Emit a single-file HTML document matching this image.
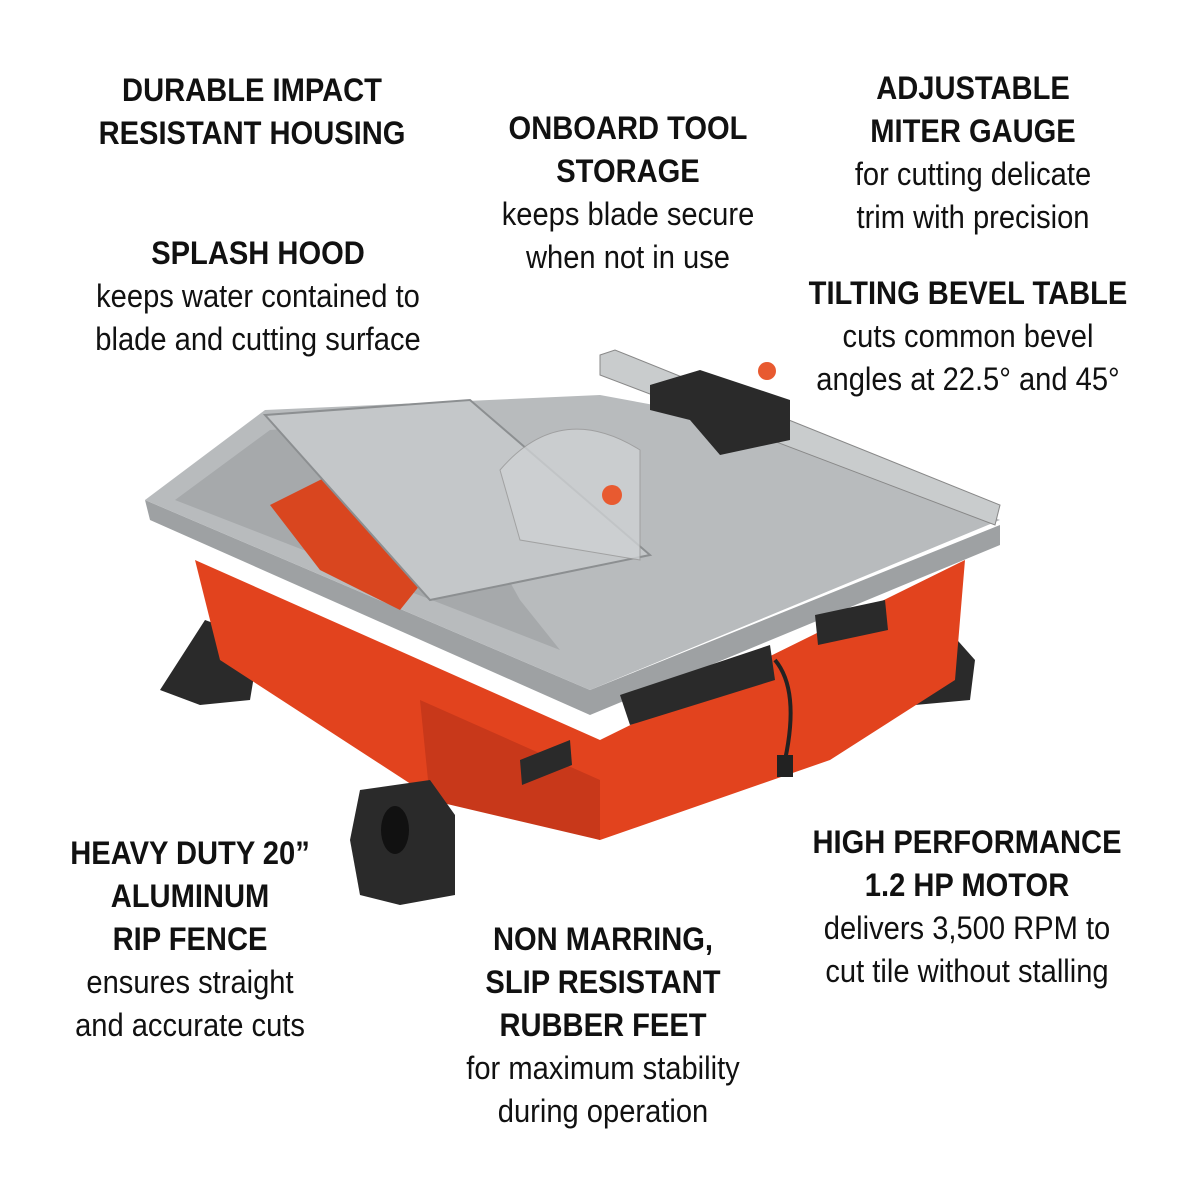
<!DOCTYPE html>
<html><head><meta charset="utf-8"><style>
body{margin:0;width:1200px;height:1200px;background:#fff;position:relative;overflow:hidden;font-family:"Liberation Sans",sans-serif;color:#111}
.b{position:absolute;text-align:center;font-size:32px;line-height:43px;white-space:nowrap;transform:translateX(-50%) scaleX(0.91)}
.b b{font-weight:bold;display:block}
.b span{display:block}
svg{position:absolute;left:0;top:0}
</style></head><body>
<svg width="1200" height="1200" viewBox="0 0 1200 1200">
<polygon points="160,690 205,620 260,640 250,700 200,705" fill="#2a2a2a"/>
<polygon points="890,640 935,615 975,660 970,700 915,705" fill="#2a2a2a"/>
<polygon points="195,560 600,740 965,560 955,680 830,760 600,840 420,790 220,660" fill="#e2431e"/>
<polygon points="420,700 600,780 600,840 430,800" fill="#c8381a"/>
<polygon points="360,790 430,780 455,815 455,895 400,905 360,895 350,840" fill="#2a2a2a"/>
<ellipse cx="395" cy="830" rx="14" ry="24" fill="#111"/>
<polygon points="145,500 590,690 1000,525 1000,545 590,715 150,520" fill="#9ea1a3"/>
<polygon points="145,500 265,410 600,395 790,430 1000,520 590,690" fill="#b8bbbd"/>
<polygon points="175,500 270,430 420,420 520,600 560,650" fill="#a6a9ab"/>
<polygon points="270,505 340,470 440,560 400,610 320,570" fill="#d9461f"/>
<polygon points="265,415 470,400 650,555 430,600" fill="#c4c7c9" stroke="#8c8f91" stroke-width="2"/>
<path d="M500,470 Q560,400 640,450 L640,560 L520,540 Z" fill="#cfd2d4" opacity="0.8" stroke="#999"/>
<circle cx="612" cy="495" r="10" fill="#e85a30"/>
<polygon points="600,355 615,350 1000,505 995,525 600,375" fill="#c9cccd" stroke="#888"/>
<polygon points="650,385 700,370 790,400 790,440 720,455 690,420 650,410" fill="#2a2a2a"/>
<circle cx="767" cy="371" r="9" fill="#e85a30"/>
<polygon points="620,695 770,645 775,680 630,725" fill="#2a2a2a"/>
<polygon points="520,760 570,740 572,765 522,785" fill="#2a2a2a"/>
<polygon points="815,615 885,600 888,630 818,645" fill="#2a2a2a"/>
<path d="M775,660 Q800,690 785,760" stroke="#222" stroke-width="4" fill="none"/>
<rect x="777" y="755" width="16" height="22" fill="#222"/>
</svg>
<div class="b" style="left:252px;top:69px"><b>DURABLE IMPACT</b><b>RESISTANT HOUSING</b></div>
<div class="b" style="left:258px;top:232px"><b>SPLASH HOOD</b><span>keeps water contained to</span><span>blade and cutting surface</span></div>
<div class="b" style="left:628px;top:107px"><b>ONBOARD TOOL</b><b>STORAGE</b><span>keeps blade secure</span><span>when not in use</span></div>
<div class="b" style="left:973px;top:67px"><b>ADJUSTABLE</b><b>MITER GAUGE</b><span>for cutting delicate</span><span>trim with precision</span></div>
<div class="b" style="left:968px;top:272px"><b>TILTING BEVEL TABLE</b><span>cuts common bevel</span><span>angles at 22.5° and 45°</span></div>
<div class="b" style="left:190px;top:832px"><b>HEAVY DUTY 20”</b><b>ALUMINUM</b><b>RIP FENCE</b><span>ensures straight</span><span>and accurate cuts</span></div>
<div class="b" style="left:603px;top:918px"><b>NON MARRING,</b><b>SLIP RESISTANT</b><b>RUBBER FEET</b><span>for maximum stability</span><span>during operation</span></div>
<div class="b" style="left:967px;top:821px"><b>HIGH PERFORMANCE</b><b>1.2 HP MOTOR</b><span>delivers 3,500 RPM to</span><span>cut tile without stalling</span></div>
</body></html>
